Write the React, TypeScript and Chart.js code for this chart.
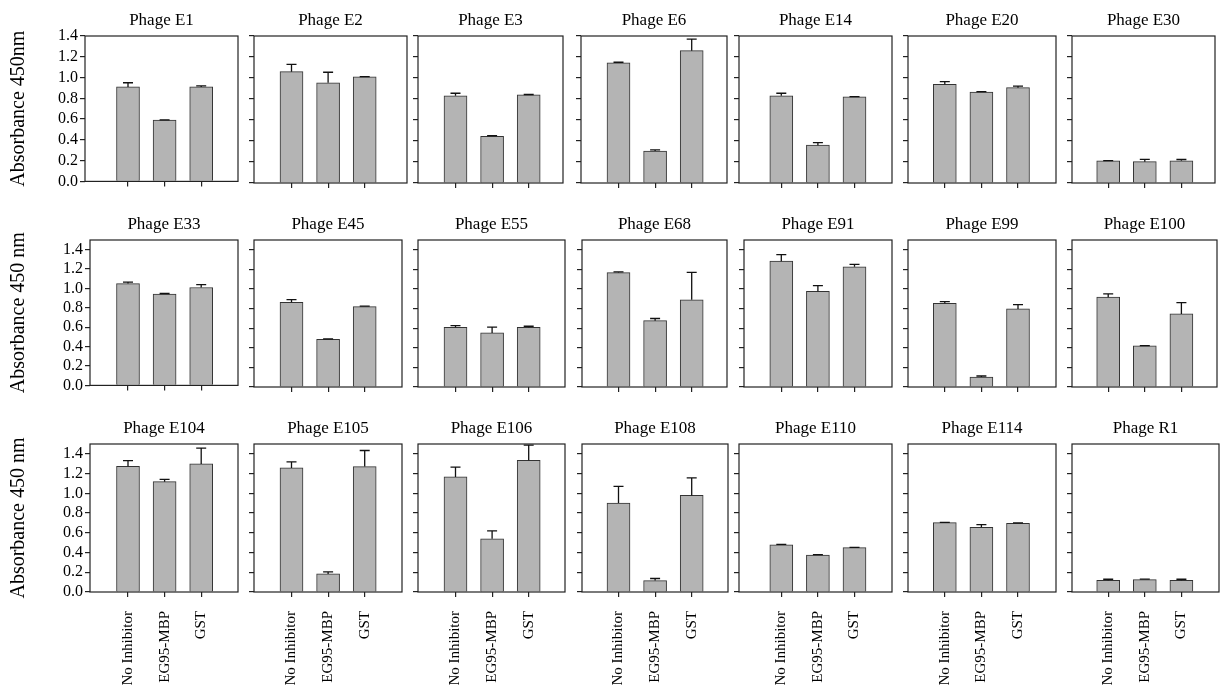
import React, { useEffect, useRef } from "react";
import { Chart, registerables } from "chart.js";

Chart.register(...registerables);

// ---------------- data ----------------
const CATEGORIES = ["No Inhibitor", "EG95-MBP", "GST"];

const PHAGES = [
  "Phage E1", "Phage E2", "Phage E3", "Phage E6", "Phage E14", "Phage E20", "Phage E30",
  "Phage E33", "Phage E45", "Phage E55", "Phage E68", "Phage E91", "Phage E99", "Phage E100",
  "Phage E104", "Phage E105", "Phage E106", "Phage E108", "Phage E110", "Phage E114", "Phage R1",
];

const NO_INHIBITOR = [
  0.91, 1.06, 0.83, 1.145, 0.83, 0.94, 0.21,
  1.05, 0.865, 0.61, 1.167, 1.284, 0.855, 0.917,
  1.274, 1.258, 1.166, 0.901, 0.479, 0.703, 0.119,
];
const NO_INHIBITOR_ERR = [
  0.04, 0.07, 0.025, 0.005, 0.025, 0.025, 0.003,
  0.015, 0.027, 0.016, 0.008, 0.066, 0.017, 0.033,
  0.057, 0.06, 0.1, 0.17, 0.004, 0.003, 0.01,
];
const EG95_MBP = [
  0.59, 0.955, 0.445, 0.305, 0.36, 0.867, 0.203,
  0.943, 0.487, 0.552, 0.677, 0.977, 0.102, 0.419,
  1.118, 0.183, 0.54, 0.116, 0.374, 0.656, 0.126,
];
const EG95_MBP_ERR = [
  0.003, 0.1, 0.006, 0.01, 0.025, 0.003, 0.022,
  0.005, 0.004, 0.058, 0.022, 0.058, 0.01, 0.003,
  0.023, 0.02, 0.08, 0.021, 0.004, 0.027, 0.004,
];
const GST = [
  0.91, 1.01, 0.84, 1.26, 0.82, 0.908, 0.212,
  1.01, 0.82, 0.61, 0.89, 1.226, 0.797, 0.746,
  1.298, 1.271, 1.335, 0.979, 0.449, 0.697, 0.119,
];
const GST_ERR = [
  0.01, 0.003, 0.003, 0.11, 0.003, 0.015, 0.012,
  0.03, 0.005, 0.01, 0.28, 0.025, 0.044, 0.115,
  0.16, 0.163, 0.153, 0.177, 0.003, 0.003, 0.01,
];

const Y_TICKS = [0, 0.2, 0.4, 0.6, 0.8, 1.0, 1.2, 1.4];
const Y_MAX = [1.4, 1.5, 1.5];
const Y_TITLES = ["Absorbance 450nm", "Absorbance 450 nm", "Absorbance 450 nm"];

// ---------------- layout (pixels) ----------------
const BOX_LEFT = [
  [85, 254, 418, 581, 739, 908, 1072],
  [90, 254, 418, 582, 744, 908, 1072],
  [90, 254, 418, 582, 739, 908, 1072],
];
const BOX_RIGHT = [
  [238, 407, 563, 727, 892, 1056, 1215],
  [238, 402, 565, 727, 892, 1056, 1217],
  [238, 402, 565, 728, 892, 1056, 1219],
];
const BOX_TOP = [36, 240, 444];
const BOX_BOTTOM = [183, 387, 592];
const FIRST_BAR = [128, 291.5, 455.5, 618.5, 781.3, 944.8, 1108.2];
const BAR_STEP = 36.6;

const FONT = "'Liberation Serif', 'Times New Roman', serif";

const boxPlugin = {
  id: "panelBox",
  afterDraw(chart: any) {
    const { ctx, chartArea } = chart;
    ctx.save();
    ctx.strokeStyle = "#222";
    ctx.lineWidth = 1.2;
    ctx.strokeRect(chartArea.left, chartArea.top, chartArea.right - chartArea.left, chartArea.bottom - chartArea.top);
    ctx.restore();
  },
};

const errorBarPlugin = {
  id: "errorBars",
  afterDatasetsDraw(chart: any) {
    const { ctx } = chart;
    const yScale = chart.scales.y;
    chart.data.datasets.forEach((ds: any, di: number) => {
      const meta = chart.getDatasetMeta(di);
      meta.data.forEach((bar: any, j: number) => {
        const v = ds.data[j].y;
        const e = ds.errors[j];
        const yTop = yScale.getPixelForValue(v + e);
        const yBar = yScale.getPixelForValue(v);
        ctx.save();
        ctx.strokeStyle = "#111";
        ctx.lineWidth = 1.3;
        ctx.beginPath();
        ctx.moveTo(bar.x, yBar);
        ctx.lineTo(bar.x, yTop);
        ctx.moveTo(bar.x - 5, yTop);
        ctx.lineTo(bar.x + 5, yTop);
        ctx.stroke();
        ctx.restore();
      });
    });
  },
};

function Panel({ index }: { index: number }) {
  const ref = useRef<HTMLCanvasElement | null>(null);
  const r = Math.floor(index / 7);
  const c = index % 7;
  const boxLeft = BOX_LEFT[r][c];
  const boxRight = BOX_RIGHT[r][c];
  const L = c === 0 ? boxLeft : 10;
  const T = 36;
  const R = 4;
  const B = r === 2 ? 694 - BOX_BOTTOM[2] : 10;
  const canvasLeft = boxLeft - L;
  const canvasTop = BOX_TOP[r] - T;
  const W = boxRight - boxLeft + L + R;
  const H = BOX_BOTTOM[r] - BOX_TOP[r] + T + B;

  useEffect(() => {
    if (!ref.current) return;
    const values = [NO_INHIBITOR[index], EG95_MBP[index], GST[index]];
    const errors = [NO_INHIBITOR_ERR[index], EG95_MBP_ERR[index], GST_ERR[index]];
    const xMin = (boxLeft - FIRST_BAR[c]) / BAR_STEP;
    const xMax = (boxRight - FIRST_BAR[c]) / BAR_STEP;
    const chart = new Chart(ref.current, {
      type: "bar",
      data: {
        datasets: [
          {
            data: values.map((y, i) => ({ x: i, y })),
            errors,
            backgroundColor: "#b4b4b4",
            borderColor: "#333",
            borderWidth: 1,
            barThickness: 23,
          } as any,
        ],
      },
      options: {
        responsive: false,
        animation: false,
        events: [],
        layout: { padding: { left: 0, right: R, top: 0, bottom: 0 }, autoPadding: false } as any,
        plugins: {
          legend: { display: false },
          tooltip: { enabled: false },
          title: {
            display: true,
            text: PHAGES[index],
            color: "#000",
            font: { family: FONT, size: 17, weight: "normal" as any },
            padding: { top: 10.3, bottom: 5.3 },
            fullSize: false,
          },
        },
        scales: {
          x: {
            type: "linear",
            min: xMin,
            max: xMax,
            offset: false,
            afterBuildTicks: (scale: any) => {
              scale.ticks = CATEGORIES.map((_, i) => ({ value: i }));
            },
            afterFit: (scale: any) => {
              scale.height = B;
            },
            grid: {
              display: true,
              offset: false,
              drawOnChartArea: false,
              drawTicks: true,
              tickLength: 5,
              color: "#222",
              lineWidth: 1.2,
            },
            border: { display: false },
            ticks: {
              display: r === 2,
              autoSkip: false,
              minRotation: 90,
              maxRotation: 90,
              padding: 14,
              color: "#000",
              font: { family: FONT, size: 15 },
              callback: (v: any) => CATEGORIES[Math.round(Number(v))] ?? "",
            },
          },
          y: {
            type: "linear",
            min: 0,
            max: Y_MAX[r],
            afterBuildTicks: (scale: any) => {
              scale.ticks = Y_TICKS.map((v) => ({ value: v }));
            },
            afterFit: (scale: any) => {
              scale.width = L;
            },
            grid: {
              display: true,
              drawOnChartArea: false,
              drawTicks: true,
              tickLength: 5,
              color: "#222",
              lineWidth: 1.2,
            },
            border: { display: false },
            title: {
              display: c === 0,
              text: Y_TITLES[r],
              color: "#000",
              font: { family: FONT, size: 20 },
              padding: { top: 7, bottom: 0 },
            },
            ticks: {
              display: c === 0,
              autoSkip: false,
              padding: 2,
              color: "#000",
              font: { family: FONT, size: 16 },
              callback: (v: any) => Number(v).toFixed(1),
            },
          },
        },
      } as any,
      plugins: [boxPlugin, errorBarPlugin],
    });
    return () => chart.destroy();
  }, [index]);

  return (
    <canvas
      ref={ref}
      width={W}
      height={H}
      style={{ position: "absolute", left: canvasLeft, top: canvasTop, width: W, height: H }}
    />
  );
}

export default function App() {
  return (
    <div style={{ position: "absolute", left: 0, top: 0, width: 1224, height: 694, background: "#fff", overflow: "hidden" }}>
      {PHAGES.map((_, i) => (
        <Panel key={i} index={i} />
      ))}
    </div>
  );
}
